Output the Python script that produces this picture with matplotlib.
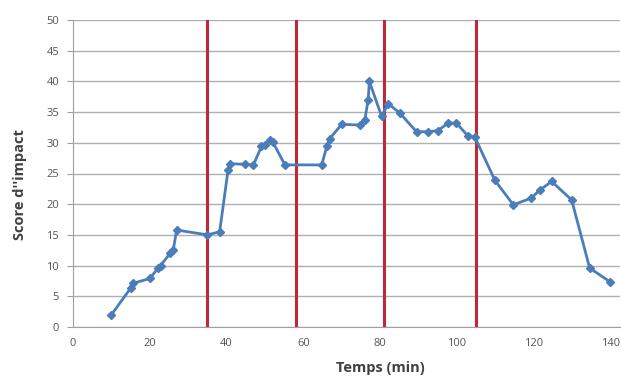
import matplotlib
matplotlib.use("Agg")
import matplotlib.pyplot as plt

time_min = [10, 15, 15.6, 20, 22.2, 22.8, 25.3, 26.1, 27, 35, 38.2, 40.4, 40.9, 44.8, 47,
            49.1, 50, 51.3, 52, 55.2, 64.8, 66.1, 66.9, 70, 74.7, 76, 76.9, 77.2, 80.4,
            82.1, 85.2, 89.5, 92.5, 95.1, 97.7, 99.9, 102.9, 104.7, 109.9, 114.7, 119.4,
            121.6, 124.7, 129.9, 134.6, 139.8]
score = [2, 6.3, 7.1, 7.9, 9.6, 10, 12, 12.5, 15.8, 15, 15.5, 25.6, 26.6, 26.5, 26.4,
         29.4, 29.6, 30.5, 30.2, 26.4, 26.4, 29.4, 30.7, 33, 32.9, 33.7, 37, 40, 34.3,
         36.4, 34.8, 31.8, 31.8, 32, 33.2, 33.2, 31.1, 30.9, 23.9, 19.9, 21, 22.3, 23.7,
         20.7, 9.6, 7.4]
phase_limits = [35, 58, 81, 105]
x_ticks = [0, 20, 40, 60, 80, 100, 120, 140]
y_ticks = [0, 5, 10, 15, 20, 25, 30, 35, 40, 45, 50]

plt.rcParams['font.family'] = ['Open Sans', 'DejaVu Sans']

fig = plt.figure(figsize=(6.21, 3.79), dpi=100)
ax = fig.add_axes([73/621, 1-327/379, (620-73)/621, (327-20)/379])

ax.set_xlim(0, 142.5)
ax.set_ylim(0, 50)
ax.set_yticks(y_ticks)
ax.set_xticks(x_ticks)
ax.grid(axis='y', color='#b0b0b0', linewidth=1.0)
ax.set_axisbelow(True)

for xv in phase_limits:
    ax.axvline(xv, ymin=0, ymax=1, color='#c0283a', linewidth=2.2, zorder=2)

ax.plot(time_min, score, color='#4a7dba', linewidth=2, marker='D', markersize=4.5,
        markerfacecolor='#4a7dba', markeredgecolor='#4a7dba', zorder=3)

for s in ['top', 'right']:
    ax.spines[s].set_visible(False)
for s in ['left', 'bottom']:
    ax.spines[s].set_color('#a0a0a0')
ax.tick_params(axis='y', colors='#a0a0a0', labelcolor='#555555', labelsize=8, length=4, pad=6)
ax.tick_params(axis='x', colors='#a0a0a0', labelcolor='#555555', labelsize=8, length=0, pad=8)

fig.text(380/621, 1-368/379, 'Temps (min)', ha='center', va='center',
         fontsize=10.5, fontweight='bold', color='#404040')
fig.text(20/621, 1-185/379, "Score d''impact", ha='center', va='center', rotation=90,
         fontsize=10.5, fontweight='bold', color='#404040')

fig.savefig('out.png', dpi=100)
